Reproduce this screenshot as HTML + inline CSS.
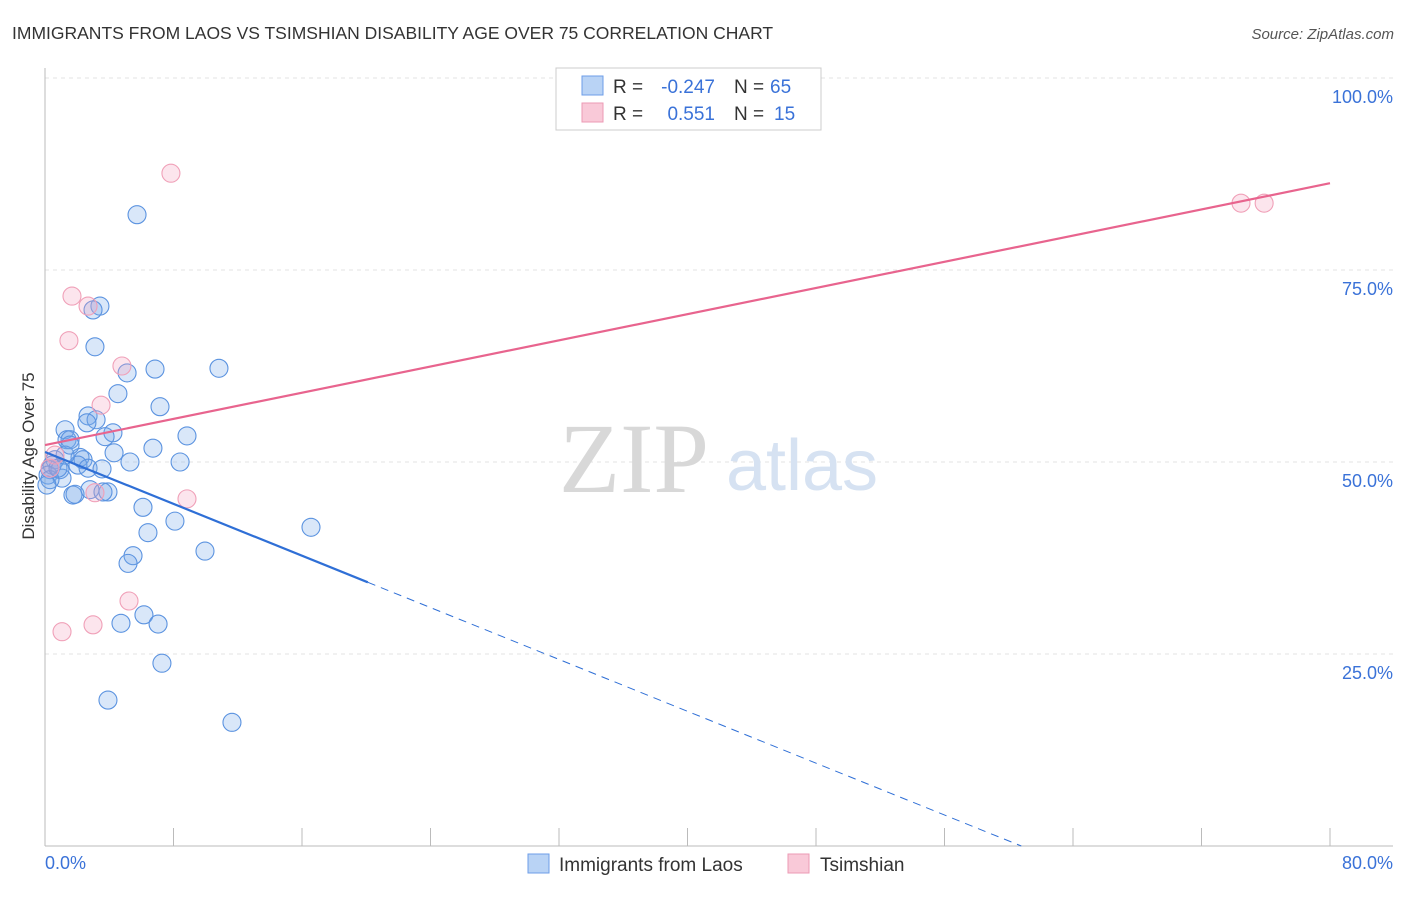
<!DOCTYPE html>
<html><head><meta charset="utf-8"><style>
body{margin:0;background:#fff;font-family:"Liberation Sans",sans-serif}
svg text{font-family:"Liberation Sans",sans-serif}
</style></head><body>
<svg id="chart" width="1406" height="892">
<text x="12" y="39" font-size="17.5" fill="#333">IMMIGRANTS FROM LAOS VS TSIMSHIAN DISABILITY AGE OVER 75 CORRELATION CHART</text>
<text x="1394" y="39" font-size="15" fill="#555" font-style="italic" text-anchor="end">Source: ZipAtlas.com</text>
<g id="grid"></g>
<g>
<text x="634" y="492" font-size="100" fill="#d8d8d8" font-family="Liberation Serif" style="font-family:'Liberation Serif',serif" text-anchor="middle">ZIP</text>
<text x="802" y="490" font-size="72" fill="#d6e2f2" text-anchor="middle">atlas</text></g>
<line x1="45" y1="68" x2="45" y2="846" stroke="#bbb"/>
<line x1="45" y1="846" x2="1393" y2="846" stroke="#bbb"/>
<g id="ticks"></g>
<text transform="translate(34,456) rotate(-90)" font-size="17" fill="#333" text-anchor="middle">Disability Age Over 75</text>
<text x="45" y="869" font-size="18" fill="#3a72d8">0.0%</text>
<text x="1393" y="869" font-size="18" fill="#3a72d8" text-anchor="end">80.0%</text>
<g id="pts"></g>
<g id="lines"></g>
<g>
<rect x="556" y="68" width="265" height="62" fill="#fff" stroke="#ccc"/>
<rect x="582" y="76" width="21" height="19" fill="#b9d3f5" stroke="#6d9ee8"/>
<rect x="582" y="103" width="21" height="19" fill="#f9c9d8" stroke="#ec9ab4"/>
<text x="613" y="93" font-size="19" fill="#333">R =</text>
<text x="715" y="93" font-size="19" fill="#3a72d8" text-anchor="end">-0.247</text>
<text x="734" y="93" font-size="19" fill="#333">N =</text>
<text x="770" y="93" font-size="19" fill="#3a72d8">65</text>
<text x="613" y="120" font-size="19" fill="#333">R =</text>
<text x="715" y="120" font-size="19" fill="#3a72d8" text-anchor="end">0.551</text>
<text x="734" y="120" font-size="19" fill="#333">N =</text>
<text x="774" y="120" font-size="19" fill="#3a72d8">15</text>
</g>
<g>
<rect x="528" y="854" width="21" height="19" fill="#b9d3f5" stroke="#6d9ee8"/>
<text x="559" y="871" font-size="19" fill="#333">Immigrants from Laos</text>
<rect x="788" y="854" width="21" height="19" fill="#f9c9d8" stroke="#ec9ab4"/>
<text x="820" y="871" font-size="19" fill="#333">Tsimshian</text>
</g>
</svg>
<script>
const yTicks=[100,75,50,25];
const xTickVals=[0,8,16,24,32,40,48,56,64,72,80];
const blueX=[5.73,3.42,2.99,3.11,5.11,6.85,10.83,4.54,7.16,1.25,2.68,3.18,2.61,1.37,1.56,4.23,3.74,8.84,6.72,4.30,2.18,2.37,2.05,2.68,5.29,8.41,3.55,0.62,0.44,0.31,0.19,0.93,1.06,0.31,1.74,1.87,2.80,3.92,3.61,6.10,8.09,16.56,6.41,9.96,5.48,5.17,6.16,4.73,7.04,7.28,3.92,11.64,0.81,1.25,1.56,0.12];
const blueY=[82.2,70.3,69.8,65.0,61.6,62.1,62.2,58.9,57.2,54.2,56.0,55.5,55.1,52.9,52.9,53.8,53.3,53.4,51.8,51.2,50.6,50.3,49.6,49.2,50.0,50.0,49.1,50.3,49.6,49.0,48.3,49.0,47.9,47.7,45.7,45.8,46.4,46.1,46.1,44.1,42.3,41.5,40.8,38.4,37.8,36.8,30.1,29.0,28.9,23.8,19.0,16.1,49.2,50.9,52.2,47.0];
const pinkX=[7.84,1.68,2.68,1.49,4.79,3.49,8.84,3.11,5.23,1.06,2.99,74.46,75.9,0.62,0.31];
const pinkY=[87.6,71.6,70.3,65.8,62.5,57.4,45.2,46.0,31.9,27.9,28.8,83.7,83.7,50.9,49.2];
const pinkTrend=[52.2,86.3];
const blueTrend=[51.3,-0.844];
const blueSolidEnd=20.1;
const NS='http://www.w3.org/2000/svg';
const sx=v=>45+v/80*1285, sy=v=>846-v/100*768;
function mk(t,a,p){const e=document.createElementNS(NS,t);for(const k in a)e.setAttribute(k,a[k]);p.appendChild(e);return e;}
const grid=document.getElementById('grid');
yTicks.forEach(v=>{
 const l=mk('line',{x1:45,x2:1393,y1:sy(v),y2:sy(v),stroke:'#e3e3e3','stroke-dasharray':'4,4'},grid);
 
 
 const t=mk('text',{x:1393,y:sy(v)+25,'font-size':18,fill:'#3a72d8','text-anchor':'end'},grid);
 t.textContent=v.toFixed(1)+'%';
 
 
});
const ticks=document.getElementById('ticks');
xTickVals.forEach(v=>{
 const l=mk('line',{x1:sx(v),x2:sx(v),y1:828,y2:846,stroke:'#bbb'},ticks);
 
 
});
const pts=document.getElementById('pts');
blueX.forEach((x,i)=>{
 const c=mk('circle',{cx:sx(x),cy:sy(blueY[i]),r:9,fill:'rgba(120,170,235,0.28)',stroke:'#5b93e0','stroke-width':1.1},pts);
 
 
});
pinkX.forEach((x,i)=>{
 const c=mk('circle',{cx:sx(x),cy:sy(pinkY[i]),r:9,fill:'rgba(245,160,190,0.28)',stroke:'#f0a0b8','stroke-width':1.1},pts);
 
 
});
const lines=document.getElementById('lines');
const pl=mk('line',{x1:sx(0),y1:sy(pinkTrend[0]),x2:sx(80),y2:sy(pinkTrend[1]),stroke:'#e8648e','stroke-width':2.2},lines);


const bf=x=>blueTrend[0]+blueTrend[1]*x;
const b1=mk('line',{x1:sx(0),y1:sy(bf(0)),x2:sx(blueSolidEnd),y2:sy(bf(blueSolidEnd)),stroke:'#2f6fd6','stroke-width':2.2},lines);


const xz=-blueTrend[0]/blueTrend[1];
const b2=mk('line',{x1:sx(blueSolidEnd),y1:sy(bf(blueSolidEnd)),x2:sx(xz),y2:sy(0),stroke:'#2f6fd6','stroke-width':1,'stroke-dasharray':'8,6'},lines);


</script>
</body></html>
